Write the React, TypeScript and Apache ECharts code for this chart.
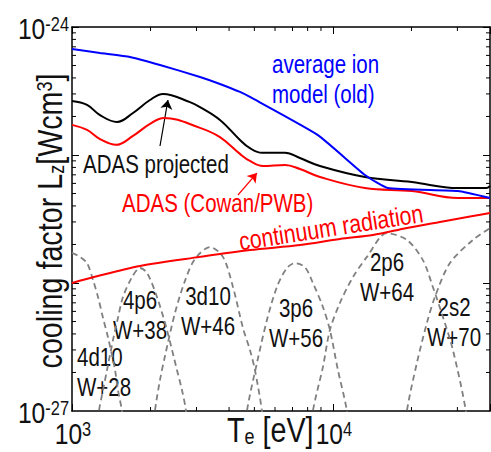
import React, { useEffect, useRef } from "react";
import * as echarts from "echarts";

const FONT = "'Liberation Sans', Arial, sans-serif";
const NARROW = 0.82;
const TEXT = "#111111";

// axis ranges and tick labels
const xRange = [1e3, 4e4];
const yRange = [1e-27, 1e-24];
const xLabelExponents = [3, 4];
const yLabelExponents = [-24, -27];
const xMinorTicks = [2e3, 3e3, 4e3, 5e3, 6e3, 7e3, 8e3, 9e3, 2e4, 3e4];
const yMinorTicks = [
  2e-27, 3e-27, 4e-27, 5e-27, 6e-27, 7e-27, 8e-27, 9e-27,
  2e-26, 3e-26, 4e-26, 5e-26, 6e-26, 7e-26, 8e-26, 9e-26,
  2e-25, 3e-25, 4e-25, 5e-25, 6e-25, 7e-25, 8e-25, 9e-25,
];

// average ion model (old)
const avgIonT = [1000, 1280, 1668, 2174, 3094, 3690, 4403, 4808, 8760, 13265, 16241, 30132, 40000];
const avgIonL = [6.73e-25, 6.26e-25, 5.83e-25, 5.05e-25, 4.07e-25, 3.59e-25, 3.11e-25, 2.84e-25, 1.43e-25, 6.98e-26, 5.52e-26, 5.23e-26, 4.61e-26];

// ADAS projected
const adasProjT = [1000, 1142, 1280, 1487, 1713, 1990, 2233, 2832, 3094, 3690, 4403, 4808, 5345, 6550, 7474, 8916, 13265, 20078, 30132, 38900, 40000];
const adasProjL = [2.64e-25, 2.46e-25, 2.05e-25, 1.81e-25, 2.13e-25, 2.69e-25, 3.0e-25, 2.59e-25, 2.37e-25, 1.88e-25, 1.31e-25, 1.13e-25, 1.04e-25, 1.04e-25, 9.47e-26, 8.2e-26, 6.73e-26, 6.15e-26, 5.52e-26, 5.52e-26, 5.73e-26];

// ADAS (Cowan/PWB)
const adasCowanT = [1000, 1142, 1280, 1475, 1713, 1990, 2252, 3094, 3690, 4403, 4808, 5392, 6550, 7474, 8916, 13265, 20078, 30132, 40000];
const adasCowanL = [1.72e-25, 1.57e-25, 1.33e-25, 1.2e-25, 1.41e-25, 1.75e-25, 1.95e-25, 1.63e-25, 1.38e-25, 1.02e-25, 8.98e-26, 8.2e-26, 8.35e-26, 7.77e-26, 6.73e-26, 5.52e-26, 5.23e-26, 4.61e-26, 4.61e-26];

// continuum radiation
const continuumT = [1000, 1204, 1822, 3094, 4808, 7474, 10636, 14230, 19211, 25704, 34395, 40000];
const continuumL = [1.0e-26, 1.11e-26, 1.36e-26, 1.6e-26, 1.81e-26, 1.98e-26, 2.21e-26, 2.37e-26, 2.69e-26, 3.0e-26, 3.34e-26, 3.52e-26];

// ionisation stage contributions (dashed)
const shell4d10T = [1000, 1073, 1142, 1204, 1258, 1315, 1373, 1423, 1462, 1500, 1554, 1596];
const shell4d10L = [1.72e-26, 1.6e-26, 1.43e-26, 1.055e-26, 7.77e-27, 5.33e-27, 3.79e-27, 2.74e-27, 2.09e-27, 1.46e-27, 1.0e-27, 5.93e-28];
const shell4p6T = [1247, 1269, 1315, 1362, 1436, 1500, 1568, 1698, 1822, 1939, 2117, 2312, 2525, 2639, 2734, 2782];
const shell4p6L = [5.93e-28, 1.0e-27, 1.46e-27, 2.09e-27, 3.59e-27, 5.33e-27, 7.77e-27, 1.11e-26, 1.31e-26, 1.2e-26, 7.77e-27, 4.29e-27, 2.09e-27, 1.46e-27, 1.0e-27, 5.93e-28];
const shell3d10T = [2043, 2080, 2174, 2272, 2481, 2710, 2960, 3380, 3789, 4140, 4521, 4808, 5024, 5345, 5440];
const shell3d10L = [5.93e-28, 1.0e-27, 1.75e-27, 2.69e-27, 5.83e-27, 1.04e-26, 1.54e-26, 1.91e-26, 1.6e-26, 9.31e-27, 4.45e-27, 3.0e-27, 2.09e-27, 1.0e-27, 5.93e-28];
const shell3p6T = [4601, 4683, 5115, 5587, 6101, 6664, 7152, 7809, 8383, 9157, 9739, 10451, 11314, 11516];
const shell3p6L = [5.93e-28, 1.0e-27, 2.37e-27, 5.14e-27, 9.31e-27, 1.31e-26, 1.43e-26, 1.33e-26, 1.0e-26, 6.49e-27, 4.29e-27, 2.09e-27, 1.0e-27, 5.93e-28];
const shell2p6T = [8236, 8383, 9157, 9739, 10636, 11930, 13500, 16100, 19211, 22120, 24160, 26400, 28830, 32325, 32900];
const shell2p6L = [5.93e-28, 1.0e-27, 2.21e-27, 4.29e-27, 6.98e-27, 1.11e-26, 1.6e-26, 2.45e-26, 2.17e-26, 1.51e-26, 9.31e-27, 5.43e-27, 3.0e-27, 1.0e-27, 5.93e-28];
const shell2s2T = [18876, 19211, 20980, 22914, 24597, 28075, 34395, 40000];
const shell2s2L = [5.93e-28, 1.0e-27, 2.37e-27, 4.87e-27, 7.77e-27, 1.43e-26, 2.17e-26, 2.69e-26];

// arrows (tail -> head)
const projArrowT = [2174, 2332];
const projArrowL = [1.176e-25, 2.69e-25];
const cowanArrowT = [4325, 5115];
const cowanArrowL = [4.87e-26, 7.23e-26];

// texts
const shellConfigs = ["4d10", "4p6", "3d10", "3p6", "2p6", "2s2"];
const shellIons = ["W+28", "W+38", "W+46", "W+56", "W+64", "W+70"];
const shellLabelPos = [
  { x: 77, y: 372, align: "left" },
  { x: 140, y: 315, align: "center" },
  { x: 208, y: 311, align: "center" },
  { x: 296, y: 323, align: "center" },
  { x: 387, y: 277, align: "center" },
  { x: 454, y: 322, align: "center" },
];

const zip = (a: number[], b: number[]) => a.map((v, i) => [v, b[i]]);

const textEl = (text: string, x: number, y: number, color: string, align: string, fontSize = 25, extra: any = {}) => ({
  type: "text",
  x,
  y,
  scaleX: NARROW,
  silent: true,
  ...extra,
  style: {
    text,
    fill: color,
    fontFamily: FONT,
    fontSize,
    lineHeight: 30,
    textAlign: align,
    align,
    textVerticalAlign: "middle",
    verticalAlign: "middle",
    ...(extra.style || {}),
  },
});

export default function App() {
  const ref = useRef<HTMLDivElement>(null);
  useEffect(() => {
    document.body.style.margin = "0";
    if (!ref.current) return;
    const chart = echarts.init(ref.current, null, { renderer: "svg" });

    const axisLine = { show: true, onZero: false, lineStyle: { color: "#000", width: 1.5 } };
    const axisTick = { show: true, inside: true, length: 7, lineStyle: { color: "#000", width: 1 } };
    const logAxis = (min: number, max: number, position: string) => ({
      type: "log",
      logBase: 10,
      min,
      max,
      position,
      axisLine,
      axisTick,
      splitLine: { show: false },
      minorTick: { show: false },
      axisLabel: { show: false },
    });

    const dashed = (T: number[], L: number[]) => ({
      type: "line",
      data: zip(T, L),
      smooth: 0.3,
      showSymbol: false,
      silent: true,
      clip: true,
      lineStyle: { color: "#808080", width: 1.8, type: [6, 4] },
    });
    const solid = (T: number[], L: number[], color: string, smooth: number) => ({
      type: "line",
      data: zip(T, L),
      smooth,
      showSymbol: false,
      silent: true,
      clip: true,
      lineStyle: { color, width: 2 },
    });
    const arrow = (T: number[], L: number[], color: string) => ({
      type: "lines",
      coordinateSystem: "cartesian2d",
      polyline: false,
      silent: true,
      symbol: ["none", "arrow"],
      symbolSize: 9,
      lineStyle: { color, width: 1.2, opacity: 1, curveness: 0 },
      data: [{ coords: zip(T, L) }],
    });

    const option: any = {
      animation: false,
      backgroundColor: "#fff",
      grid: { left: 72, top: 27, width: 418, height: 384, containLabel: false, outerBoundsMode: "none" },
      xAxis: [logAxis(xRange[0], xRange[1], "bottom"), logAxis(xRange[0], xRange[1], "top")],
      yAxis: [logAxis(yRange[0], yRange[1], "left"), logAxis(yRange[0], yRange[1], "right")],
      series: [
        dashed(shell4d10T, shell4d10L),
        dashed(shell4p6T, shell4p6L),
        dashed(shell3d10T, shell3d10L),
        dashed(shell3p6T, shell3p6L),
        dashed(shell2p6T, shell2p6L),
        dashed(shell2s2T, shell2s2L),
        solid(continuumT, continuumL, "#ff0000", 0.3),
        solid(adasCowanT, adasCowanL, "#ff0000", 0.4),
        solid(adasProjT, adasProjL, "#000000", 0.4),
        solid(avgIonT, avgIonL, "#0000ff", 0.15),
        arrow(projArrowT, projArrowL, "#000000"),
        arrow(cowanArrowT, cowanArrowL, "#ff0000"),
        {
          type: "custom",
          coordinateSystem: "cartesian2d",
          silent: true,
          data: xMinorTicks.map((t) => [t, 1e-26]),
          renderItem: (params: any, api: any) => {
            const cs = params.coordSys;
            const px = api.coord([api.value(0), 1e-26])[0];
            const st = { stroke: "#000", lineWidth: 1 };
            return {
              type: "group",
              children: [
                { type: "line", shape: { x1: px, y1: cs.y + cs.height, x2: px, y2: cs.y + cs.height - 4 }, style: st },
                { type: "line", shape: { x1: px, y1: cs.y, x2: px, y2: cs.y + 4 }, style: st },
              ],
            };
          },
        },
        {
          type: "custom",
          coordinateSystem: "cartesian2d",
          silent: true,
          data: yMinorTicks.map((l) => [3000, l]),
          renderItem: (params: any, api: any) => {
            const cs = params.coordSys;
            const py = api.coord([3000, api.value(1)])[1];
            const st = { stroke: "#000", lineWidth: 1 };
            return {
              type: "group",
              children: [
                { type: "line", shape: { x1: cs.x, y1: py, x2: cs.x + 4, y2: py }, style: st },
                { type: "line", shape: { x1: cs.x + cs.width, y1: py, x2: cs.x + cs.width - 4, y2: py }, style: st },
              ],
            };
          },
        },
      ],
    };
    chart.setOption(option);

    // tick labels placed through the library's own scales
    const tickRich = {
      b: { fontFamily: FONT, fontSize: 30, lineHeight: 30, fill: TEXT, verticalAlign: "middle" },
      s: { fontFamily: FONT, fontSize: 20, lineHeight: 14, fill: TEXT, verticalAlign: "top" },
    };
    const tickLabels: any[] = [];
    xLabelExponents.forEach((e) => {
      const p = chart.convertToPixel({ gridIndex: 0 }, [Math.pow(10, e), yRange[0]]) as number[];
      tickLabels.push({
        type: "text",
        x: p[0] + 1,
        y: p[1] + 8,
        scaleX: NARROW,
        silent: true,
        style: { text: `{b|10}{s|${e}}`, rich: tickRich, align: "center", textAlign: "center", verticalAlign: "top", textVerticalAlign: "top" },
      });
    });
    yLabelExponents.forEach((e) => {
      const p = chart.convertToPixel({ gridIndex: 0 }, [xRange[0], Math.pow(10, e)]) as number[];
      tickLabels.push({
        type: "text",
        x: p[0] - 3,
        y: p[1] + 2,
        scaleX: NARROW,
        silent: true,
        style: { text: `{b|10}{s|${e}}`, rich: tickRich, align: "right", textAlign: "right", verticalAlign: "middle", textVerticalAlign: "middle" },
      });
    });

    const xName = {
      type: "text",
      x: 227,
      y: 430,
      scaleX: NARROW,
      silent: true,
      style: {
        text: "{t|T}{e|e}{t| [eV]}",
        align: "left",
        textAlign: "left",
        verticalAlign: "middle",
        textVerticalAlign: "middle",
        rich: {
          t: { fontFamily: FONT, fontSize: 35, lineHeight: 35, fill: TEXT, verticalAlign: "middle" },
          e: { fontFamily: FONT, fontSize: 22, lineHeight: 16, fill: TEXT, verticalAlign: "bottom" },
        },
      },
    };
    const yName = {
      type: "text",
      x: 50,
      y: 221,
      rotation: Math.PI / 2,
      scaleX: NARROW,
      silent: true,
      style: {
        text: "{a|cooling factor L}{z|z}{a|[Wcm}{p|3}{a|]}",
        align: "center",
        textAlign: "center",
        verticalAlign: "middle",
        textVerticalAlign: "middle",
        rich: {
          a: { fontFamily: FONT, fontSize: 35, lineHeight: 34, fill: TEXT, verticalAlign: "middle" },
          z: { fontFamily: FONT, fontSize: 22, lineHeight: 24, fill: TEXT, verticalAlign: "bottom" },
          p: { fontFamily: FONT, fontSize: 22, lineHeight: 14, fill: TEXT, verticalAlign: "top" },
        },
      },
    };

    chart.setOption({
      graphic: {
        elements: [
          ...tickLabels,
          xName,
          yName,
          textEl("average ion\nmodel (old)", 272, 79, "#0000ff", "left"),
          textEl("ADAS projected", 83, 164, TEXT, "left"),
          textEl("ADAS (Cowan/PWB)", 122, 203, "#ff0000", "left"),
          textEl("continuum radiation", 331, 227, "#ff0000", "center", 26, { rotation: 0.154 }),
          ...shellConfigs.map((c, i) =>
            textEl(c + "\n" + shellIons[i], shellLabelPos[i].x, shellLabelPos[i].y, TEXT, shellLabelPos[i].align)
          ),
        ],
      },
    });
    return () => chart.dispose();
  }, []);
  return <div ref={ref} style={{ width: 491, height: 452 }} />;
}
